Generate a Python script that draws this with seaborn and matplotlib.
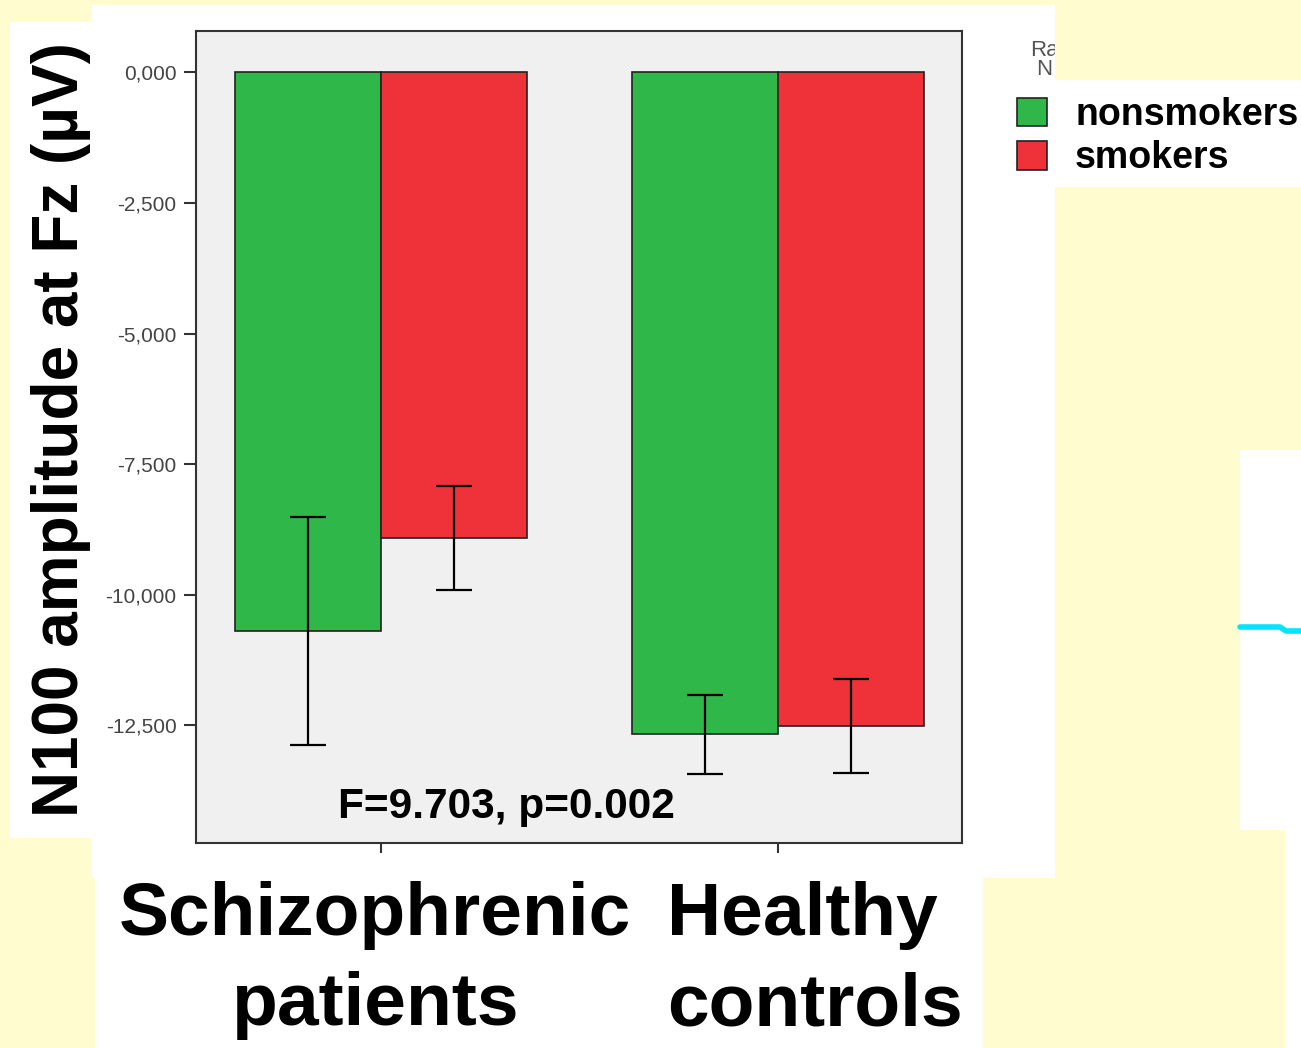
import numpy as np
import pandas as pd
import seaborn as sns
import matplotlib.pyplot as plt
from matplotlib.patches import Rectangle
from matplotlib.lines import Line2D
from matplotlib.transforms import ScaledTranslation

# data (µV)
groups = ["Schizophrenic\npatients", "Healthy\ncontrols"]
smoking = ["nonsmokers", "smokers"]
amp_nonsmokers = [-10.69, -12.67]
amp_smokers = [-8.91, -12.51]
err_nonsmokers = [2.18, 0.75]
err_smokers = [0.99, 0.90]
yticks = [0, -2.5, -5, -7.5, -10, -12.5]
ytick_labels = ["0,000", "-2,500", "-5,000", "-7,500", "-10,000", "-12,500"]
bar_colors = ["#2fb74a", "#ef323a"]

sns.set_style("ticks")
plt.rcParams["font.family"] = ["Liberation Sans", "DejaVu Sans"]
plt.rcParams["text.color"] = "black"
plt.rcParams["axes.labelcolor"] = "black"

W, H = 1301, 1048
yellow = "#fffccf"
fig = plt.figure(figsize=(W / 100, H / 100), dpi=100, facecolor=yellow)


def px_rect(x0, y0, x1, y1, color="white", z=-5):
    # rectangle given in pixel coords (origin top-left)
    fig.add_artist(Rectangle((x0 / W, 1 - y1 / H), (x1 - x0) / W, (y1 - y0) / H,
                             transform=fig.transFigure, facecolor=color,
                             edgecolor="none", zorder=z))


# white panels of the slide
px_rect(92, 5, 1055, 878)
px_rect(10, 22, 95, 838)
px_rect(95, 878, 983, 1048)
px_rect(1055, 80, 1301, 187)
px_rect(1240, 450, 1301, 830)
px_rect(1285, 830, 1301, 1048)
fig.add_artist(Line2D([1240 / W, 1280 / W, 1286 / W, 1.0],
                      [1 - 627 / H, 1 - 627 / H, 1 - 631 / H, 1 - 631 / H],
                      transform=fig.transFigure, color="#00e5ff", lw=4))

ax = fig.add_axes([196 / W, 1 - 843 / H, (962 - 196) / W, (843 - 31) / H])
ax.set_facecolor("#f0f0f0")

df = pd.DataFrame({
    "group": np.repeat(groups, 2),
    "smoking": smoking * 2,
    "amp": [v for pair in zip(amp_nonsmokers, amp_smokers) for v in pair],
})

sns.barplot(data=df, x="group", y="amp", hue="smoking", hue_order=smoking,
            palette=bar_colors, saturation=1, width=0.736, errorbar=None,
            edgecolor="#222222", linewidth=1.2, ax=ax)

for cont, means, errs in zip(ax.containers, [amp_nonsmokers, amp_smokers],
                             [err_nonsmokers, err_smokers]):
    xs = [b.get_x() + b.get_width() / 2 for b in cont]
    ax.errorbar(xs, means, yerr=errs, fmt="none", ecolor="black",
                elinewidth=1.6, capsize=13, capthick=1.6, zorder=5)

ax.set_xlim(-0.466, 1.463)
ax.set_ylim(-14.75, 0.79)
ax.set_yticks(yticks, ytick_labels)
ax.tick_params(axis="y", length=9, width=1.5, color="#333333", labelsize=15,
               labelcolor="#444444", pad=5)
ax.tick_params(axis="x", length=7, width=1.5, color="#333333", labelsize=54,
               labelcolor="black", pad=20)
xl = ax.get_xticklabels()
for lab in xl:
    lab.set_fontweight("bold")
    lab.set_linespacing(1.4)
xl[0].set_transform(xl[0].get_transform() + ScaledTranslation(-0.06, 0, fig.dpi_scale_trans))
xl[1].set_multialignment("left")
xl[1].set_transform(xl[1].get_transform() + ScaledTranslation(0.37, 0, fig.dpi_scale_trans))

for s in ax.spines.values():
    s.set_color("#333333")
    s.set_linewidth(1.5)

ax.set_xlabel("")
ax.set_ylabel("N100 amplitude at Fz (µV)", fontsize=46, fontweight="bold",
              va="center")
ax.yaxis.set_label_coords(-0.176, 0.509)

ax.text(0.315, -14.27, "F=9.703, p=0.002", ha="center", va="baseline",
        fontsize=30.5, fontweight="bold")

handles, labels = ax.get_legend_handles_labels()
ax.legend(handles, labels, loc="upper left", bbox_to_anchor=(1017 / W, 1 - 97 / H),
          bbox_transform=fig.transFigure, frameon=False, borderpad=0,
          borderaxespad=0, handlelength=0.8, handleheight=0.8,
          handletextpad=0.75, labelspacing=0.2,
          prop={"size": 27, "weight": "bold"})

# cut-off legend title from the original export
fig.text(1044 / W, 1 - 60 / H, "Ra\nN", ha="center", va="center",
         fontsize=16, color="#555555", linespacing=0.85)
px_rect(1055, 0, 1301, 80, color=yellow, z=10)

fig.savefig("out.png", dpi=100, facecolor=yellow)
